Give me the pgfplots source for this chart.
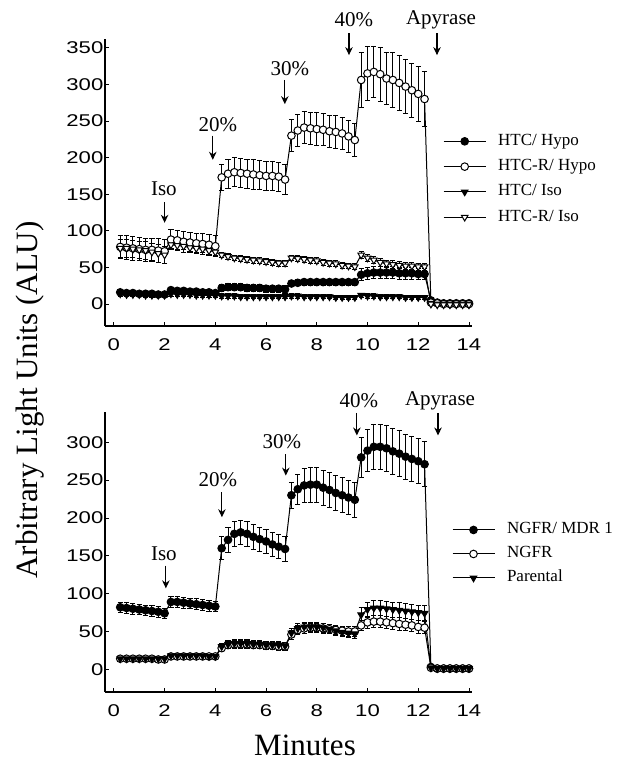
\documentclass[border=0pt]{standalone}
\usepackage{fontspec}
\setmainfont{Liberation Serif}
\newfontfamily\tickfont[FakeStretch=1.3]{Liberation Sans}
\usepackage{pgfplots}
\usepackage{pgfplotstable}
\pgfplotsset{compat=1.18}
\usetikzlibrary{arrows.meta}

% top panel: HTC/Hypo, HTC-R/Hypo, HTC/Iso, HTC-R/Iso (value, error)
\pgfplotstableread{
t hh ehh rh erh hi ehi ri eri
0.25 16 3 78 16 14 3 76 12
0.50 15 3 77 16 13 3 76 12
0.75 15 3 76 16 13 3 75 12
1.00 14 3 75 16 13 3 74 12
1.25 14 3 74 16 12 3 73 12
1.50 14 3 74 16 12 3 71 12
1.75 13 3 73 16 12 3 69 12
2.00 13 3 72 16 12 3 67 12
2.25 19 3 88 14 14 3 81 5
2.50 18 3 87 14 13 3 80 5
2.75 18 3 85 14 13 3 79 5
3.00 17 3 84 14 13 3 77 5
3.25 17 3 83 14 12 3 76 5
3.50 16 3 82 14 12 3 75 5
3.75 16 3 81 14 12 3 73 5
4.00 15 3 79 14 12 3 71 5
4.25 22 5 173 18 11 3 67 4
4.50 23 5 178 20 11 3 65 4
4.75 23 5 180 20 11 3 63 4
5.00 23 5 179 20 10 3 62 4
5.25 22 5 178 20 10 3 61 4
5.50 22 5 177 20 10 3 60 4
5.75 22 5 176 20 10 3 59 4
6.00 21 5 175 20 10 3 58 4
6.25 21 5 175 20 10 3 57 4
6.50 21 5 174 20 10 3 56 4
6.75 20 5 170 20 10 3 56 4
7.00 28 4 230 22 11 3 63 4
7.25 29 4 237 22 11 3 62 4
7.50 30 4 241 22 10 3 61 4
7.75 30 4 240 22 10 3 60 4
8.00 30 4 239 22 10 3 59 4
8.25 30 4 238 22 10 3 57 4
8.50 30 4 236 22 10 3 56 4
8.75 30 4 235 22 9 3 55 4
9.00 30 4 233 22 9 3 53 4
9.25 30 4 229 22 9 3 52 4
9.50 30 4 224 22 9 3 51 4
9.75 40 8 306 37 12 3 67 5
10.00 42 8 315 37 11 3 63 5
10.25 43 8 317 35 11 3 60 5
10.50 43 8 314 37 10 3 57 5
10.75 43 8 308 36 10 3 55 5
11.00 43 8 306 37 10 3 54 5
11.25 42 8 302 37 10 3 53 5
11.50 42 8 297 37 9 3 52 5
11.75 42 8 292 37 9 3 52 5
12.00 41 8 287 37 9 3 51 5
12.25 41 8 280 37 9 3 51 5
12.50 5 1 2 1 1 1 0 1
12.75 2 1 1 1 0 1 -1 1
13.00 1 1 0 1 0 1 -1 1
13.25 1 1 0 1 0 1 -1 1
13.50 1 1 0 1 0 1 -1 1
13.75 1 1 0 1 0 1 -1 1
14.00 1 1 0 1 0 1 -1 1
}\toptable

% bottom panel: NGFR/MDR 1, NGFR, Parental (value, error)
\pgfplotstableread{
t m em n en p ep
0.25 82 7 14 2 14 2
0.50 81 7 14 2 14 2
0.75 80 7 14 2 14 2
1.00 79 7 14 2 14 2
1.25 78 7 14 2 14 2
1.50 77 7 14 2 14 2
1.75 76 7 13 2 14 2
2.00 74 7 13 2 14 2
2.25 89 7 17 2 18 2
2.50 89 7 17 2 18 2
2.75 88 7 17 2 18 2
3.00 87 7 17 2 18 2
3.25 86 7 17 2 18 2
3.50 85 7 17 2 18 2
3.75 84 7 17 2 17 2
4.00 83 7 17 2 17 2
4.25 160 15 28 4 30 4
4.50 171 16 32 5 33 5
4.75 179 16 33 5 34 5
5.00 181 16 33 5 34 5
5.25 179 16 33 5 34 5
5.50 175 16 32 5 33 5
5.75 172 16 32 5 33 5
6.00 169 16 31 5 32 5
6.25 165 16 31 5 32 5
6.50 162 16 30 5 32 5
6.75 159 16 30 5 31 5
7.00 230 17 46 6 48 6
7.25 238 20 52 6 54 6
7.50 243 22 54 6 56 6
7.75 244 23 55 6 56 6
8.00 244 23 55 6 56 6
8.25 240 23 54 6 55 6
8.50 237 23 53 6 53 6
8.75 233 23 52 6 51 6
9.00 230 23 51 6 49 6
9.25 227 23 50 6 48 6
9.50 224 23 50 6 47 6
9.75 280 26 58 7 72 10
10.00 289 28 62 8 79 10
10.25 294 30 63 8 81 10
10.50 294 30 63 8 81 10
10.75 292 30 62 8 80 10
11.00 288 30 61 8 79 10
11.25 285 30 60 8 78 10
11.50 281 30 59 8 77 10
11.75 278 30 58 8 76 10
12.00 275 30 56 8 75 10
12.25 271 30 55 8 74 10
12.50 3 1 2 1 2 1
12.75 1 1 1 1 1 1
13.00 1 1 1 1 1 1
13.25 1 1 1 1 1 1
13.50 1 1 1 1 1 1
13.75 1 1 1 1 1 1
14.00 1 1 1 1 1 1
}\bottable

\tikzset{
  ann/.style={font=\fontsize{21}{21}\selectfont},
  arr/.style={-{Stealth[length=8pt,width=7.5pt]}, line width=1.1pt},
}
\pgfplotsset{
  panel/.style={
    scale only axis, width=367pt,
    axis lines=left, axis line style={-, line width=1.1pt},
    xmin=-0.35, xmax=14.12, xtick={0,2,...,14},
    tick align=inside, major tick length=4pt,
    tick style={line width=0.9pt, black},
    /pgf/number format/assume math mode=true,
    ticklabel style={font=\tickfont\fontsize{17}{17}\selectfont},
    yticklabel style={inner xsep=1.5pt},
    xticklabel style={yshift=-9pt},
    clip=false,
    legend cell align=left,
    legend image code/.code={\draw[mark repeat=2,mark phase=2,##1]
      plot coordinates {(0pt,0pt) (21pt,0pt) (42pt,0pt)};},
  },
  ser/.style={black, line width=1pt, mark size=3.8pt,
    error bars/y dir=both, error bars/y explicit,
    error bars/error bar style={line width=0.9pt, solid},
    error bars/error mark options={rotate=90, mark size=2.6pt, line width=0.9pt}},
  fcirc/.style={ser, mark=*, mark options={fill=black, solid}},
  ocirc/.style={ser, mark=*, mark options={fill=white, solid}},
  ftri/.style={ser, mark=triangle*, mark options={fill=black, rotate=180, solid}},
  otri/.style={ser, mark=triangle*, mark options={fill=white, rotate=180, solid}},
}

\begin{document}
\begin{tikzpicture}
\path[use as bounding box] (0pt,0pt) rectangle (632pt,-765pt);

\begin{axis}[panel, at={(105pt,-326pt)}, anchor=south west,
  height=287pt, ymin=-30, ymax=362, ytick={0,50,...,350},
  legend style={at={(0.921,0.672)}, anchor=north west, draw=none, fill=none,
    inner sep=0pt, row sep=9.3pt, font=\fontsize{17}{17}\selectfont,
    nodes={inner sep=0pt, text height=12pt, text depth=4pt},
    /tikz/every odd column/.append style={column sep=12pt}},
]
\addplot[fcirc] table[x=t, y=hh, y error=ehh] {\toptable};
\addlegendentry{HTC/ Hypo}
\addplot[ocirc] table[x=t, y=rh, y error=erh] {\toptable};
\addlegendentry{HTC-R/ Hypo}
\addplot[ftri] table[x=t, y=hi, y error=ehi] {\toptable};
\addlegendentry{HTC/ Iso}
\addplot[otri] table[x=t, y=ri, y error=eri] {\toptable};
\addlegendentry{HTC-R/ Iso}
\node[ann] at (axis cs:1.97,157) {Iso};
\draw[arr] (axis cs:2.0,139) -- (axis cs:2.0,111);
\node[ann] at (axis cs:4.1,245) {20\%};
\draw[arr] (axis cs:3.9,230) -- (axis cs:3.9,197);
\node[ann] at (axis cs:6.94,321) {30\%};
\draw[arr] (axis cs:6.74,306) -- (axis cs:6.74,273);
\node[ann] at (axis cs:9.46,388) {40\%};
\draw[arr] (axis cs:9.27,370) -- (axis cs:9.27,340);
\node[ann] at (axis cs:12.9,388) {Apyrase};
\draw[arr] (axis cs:12.74,370) -- (axis cs:12.74,340);
\end{axis}

\begin{axis}[panel, at={(105pt,-692pt)}, anchor=south west,
  height=280pt, ymin=-30, ymax=340, ytick={0,50,...,300},
  legend style={at={(0.945,0.608)}, anchor=north west, draw=none, fill=none,
    inner sep=0pt, row sep=8pt, font=\fontsize{17}{17}\selectfont,
    nodes={inner sep=0pt, text height=12pt, text depth=4pt},
    /tikz/every odd column/.append style={column sep=12pt}},
]
\addplot[fcirc] table[x=t, y=m, y error=em] {\bottable};
\addlegendentry{NGFR/ MDR 1}
\addplot[ocirc] table[x=t, y=n, y error=en] {\bottable};
\addlegendentry{NGFR}
\addplot[ftri] table[x=t, y=p, y error=ep] {\bottable};
\addlegendentry{Parental}
\node[ann] at (axis cs:1.97,153) {Iso};
\draw[arr] (axis cs:2.05,137) -- (axis cs:2.05,107);
\node[ann] at (axis cs:4.1,251) {20\%};
\draw[arr] (axis cs:4.26,234) -- (axis cs:4.26,201);
\node[ann] at (axis cs:6.62,301) {30\%};
\draw[arr] (axis cs:6.78,284) -- (axis cs:6.78,256);
\node[ann] at (axis cs:9.66,355) {40\%};
\draw[arr] (axis cs:9.58,339) -- (axis cs:9.58,309);
\node[ann] at (axis cs:12.86,355) {Apyrase};
\draw[arr] (axis cs:12.78,339) -- (axis cs:12.78,309);
\end{axis}

\node[rotate=90, font=\fontsize{31}{31}\selectfont] at (30pt,-400pt)
  {Arbitrary Light Units (ALU)};
\node[font=\fontsize{31}{31}\selectfont] at (305pt,-745pt) {Minutes};
\end{tikzpicture}
\end{document}
